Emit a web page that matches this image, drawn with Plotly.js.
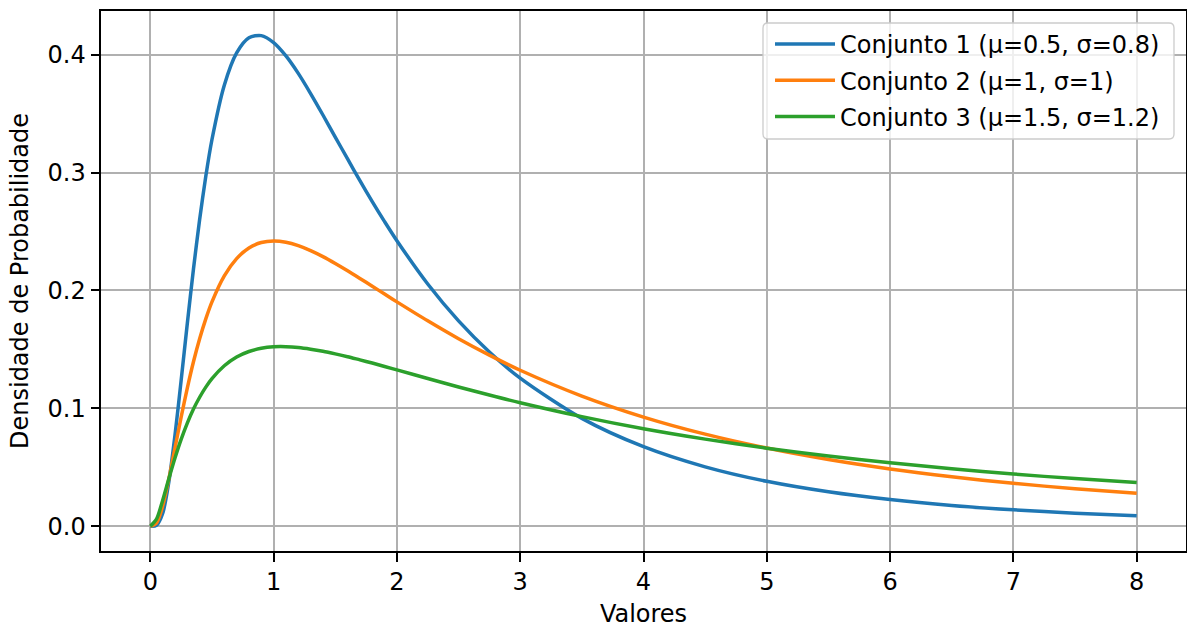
<!DOCTYPE html>
<html>
<head>
<meta charset="utf-8">
<script src="https://cdn.plot.ly/plotly-3.0.1.min.js"></script>
<style>html,body{margin:0;padding:0;background:#fff;}#chart{width:1187px;height:628px;}</style>
</head>
<body>
<div id="chart"></div>
<script>
// Values
const valores = [0, 0.05, 0.1, 0.15, 0.2, 0.25, 0.3, 0.35, 0.4, 0.45, 0.5, 0.6, 0.7, 0.8, 0.9, 1.0, 1.1, 1.2, 1.3, 1.4, 1.5, 1.6, 1.7, 1.8, 1.9, 2.0, 2.25, 2.5, 2.75, 3, 3.5, 4, 4.5, 5, 5.5, 6, 6.5, 7, 7.5, 8];
const conjunto1 = [0, 0.0007, 0.0108, 0.0374, 0.0772, 0.1237, 0.1720, 0.2182, 0.2601, 0.2968, 0.3280, 0.3741, 0.4015, 0.4143, 0.4161, 0.4102, 0.3989, 0.3841, 0.3670, 0.3488, 0.3301, 0.3115, 0.2931, 0.2754, 0.2584, 0.2422, 0.2055, 0.1742, 0.1478, 0.1256, 0.0915, 0.0675, 0.0504, 0.0381, 0.0292, 0.0226, 0.0176, 0.0139, 0.0111, 0.0089];
const conjunto2 = [0, 0.0027, 0.0171, 0.0400, 0.0663, 0.0925, 0.1172, 0.1395, 0.1590, 0.1759, 0.1903, 0.2124, 0.2270, 0.2360, 0.2406, 0.2420, 0.2409, 0.2380, 0.2338, 0.2287, 0.2229, 0.2167, 0.2102, 0.2036, 0.1969, 0.1903, 0.1742, 0.1590, 0.1451, 0.1323, 0.1104, 0.0926, 0.0781, 0.0663, 0.0566, 0.0486, 0.0420, 0.0364, 0.0318, 0.0279];
const conjunto3 = [0, 0.0060, 0.0219, 0.0403, 0.0579, 0.0737, 0.0875, 0.0994, 0.1094, 0.1180, 0.1252, 0.1361, 0.1435, 0.1482, 0.1509, 0.1522, 0.1523, 0.1516, 0.1502, 0.1484, 0.1462, 0.1438, 0.1411, 0.1384, 0.1355, 0.1326, 0.1253, 0.1181, 0.1113, 0.1048, 0.0930, 0.0827, 0.0739, 0.0662, 0.0596, 0.0538, 0.0488, 0.0443, 0.0404, 0.0370];
const nomes = ["Conjunto 1 (μ=0.5, σ=0.8)", "Conjunto 2 (μ=1, σ=1)", "Conjunto 3 (μ=1.5, σ=1.2)"];
const cores = ["#1f77b4", "#ff7f0e", "#2ca02c"];
const xTicks = [0, 1, 2, 3, 4, 5, 6, 7, 8];
const yTicks = [0.0, 0.1, 0.2, 0.3, 0.4];

const series = [conjunto1, conjunto2, conjunto3];
const traces = series.map((ys, i) => ({
  type: "scatter", mode: "lines",
  x: valores, y: ys, name: nomes[i],
  legendgroup: "g" + i,
  line: {color: cores[i], width: 3.5, shape: "spline", smoothing: 0.8}
}));

const FONT = "DejaVu Sans, Liberation Sans, sans-serif";
// rounded legend frame (paper coords)
const L = 101, W = 1085, T = 11, H = 540;
function px2x(p){return (p - L) / W;}
function py2y(p){return (T + H - p) / H;}
const bx0 = 763, bx1 = 1174, by0 = 23, by1 = 139, r = 5;
const rx = r / W, ry = r / H;
const X0 = px2x(bx0), X1 = px2x(bx1), Y0 = py2y(by1), Y1 = py2y(by0);
const framePath = `M ${X0+rx},${Y1} L ${X1-rx},${Y1} Q ${X1},${Y1} ${X1},${Y1-ry} L ${X1},${Y0+ry} Q ${X1},${Y0} ${X1-rx},${Y0} L ${X0+rx},${Y0} Q ${X0},${Y0} ${X0},${Y0+ry} L ${X0},${Y1-ry} Q ${X0},${Y1} ${X0+rx},${Y1} Z`;

const layout = {
  width: 1187, height: 628,
  margin: {l: L, r: 1187 - L - W, t: T, b: 628 - T - H, pad: 0},
  paper_bgcolor: "#ffffff", plot_bgcolor: "#ffffff",
  font: {family: FONT, size: 24, color: "#000000"},
  showlegend: true,
  legend: {
    x: px2x(770), y: py2y(22), xanchor: "left", yanchor: "top",
    bgcolor: "rgba(0,0,0,0)", borderwidth: 0,
    font: {family: FONT, size: 24, color: "#000000"},
    tracegroupgap: 2, itemwidth: 60
  },
  xaxis: {
    range: [-0.4, 8.4], tickvals: xTicks, ticktext: xTicks.map(String),
    showgrid: true, gridcolor: "#b0b0b0", gridwidth: 2,
    zeroline: false, showline: true, linecolor: "#000", linewidth: 2, mirror: true,
    ticks: "outside", ticklen: 8.5, tickwidth: 2, tickcolor: "#000",
    tickfont: {family: FONT, size: 24, color: "#000"},
    title: {text: "Valores", font: {family: FONT, size: 24, color: "#000"}, standoff: 12}
  },
  yaxis: {
    range: [-0.021, 0.437], tickvals: yTicks, ticktext: yTicks.map(v => v.toFixed(1)),
    showgrid: true, gridcolor: "#b0b0b0", gridwidth: 2,
    zeroline: false, showline: true, linecolor: "#000", linewidth: 2, mirror: true,
    ticks: "outside", ticklen: 8.5, tickwidth: 2, tickcolor: "#000",
    tickfont: {family: FONT, size: 24, color: "#000"},
    title: {text: "Densidade de Probabilidade", font: {family: FONT, size: 24, color: "#000"}, standoff: 12}
  },
  shapes: [{
    type: "path", xref: "paper", yref: "paper", path: framePath,
    fillcolor: "rgba(255,255,255,0.8)", line: {color: "#cccccc", width: 1.3}, layer: "above"
  }]
};

Plotly.newPlot("chart", traces, layout, {displayModeBar: false, staticPlot: true});
</script>
</body>
</html>
